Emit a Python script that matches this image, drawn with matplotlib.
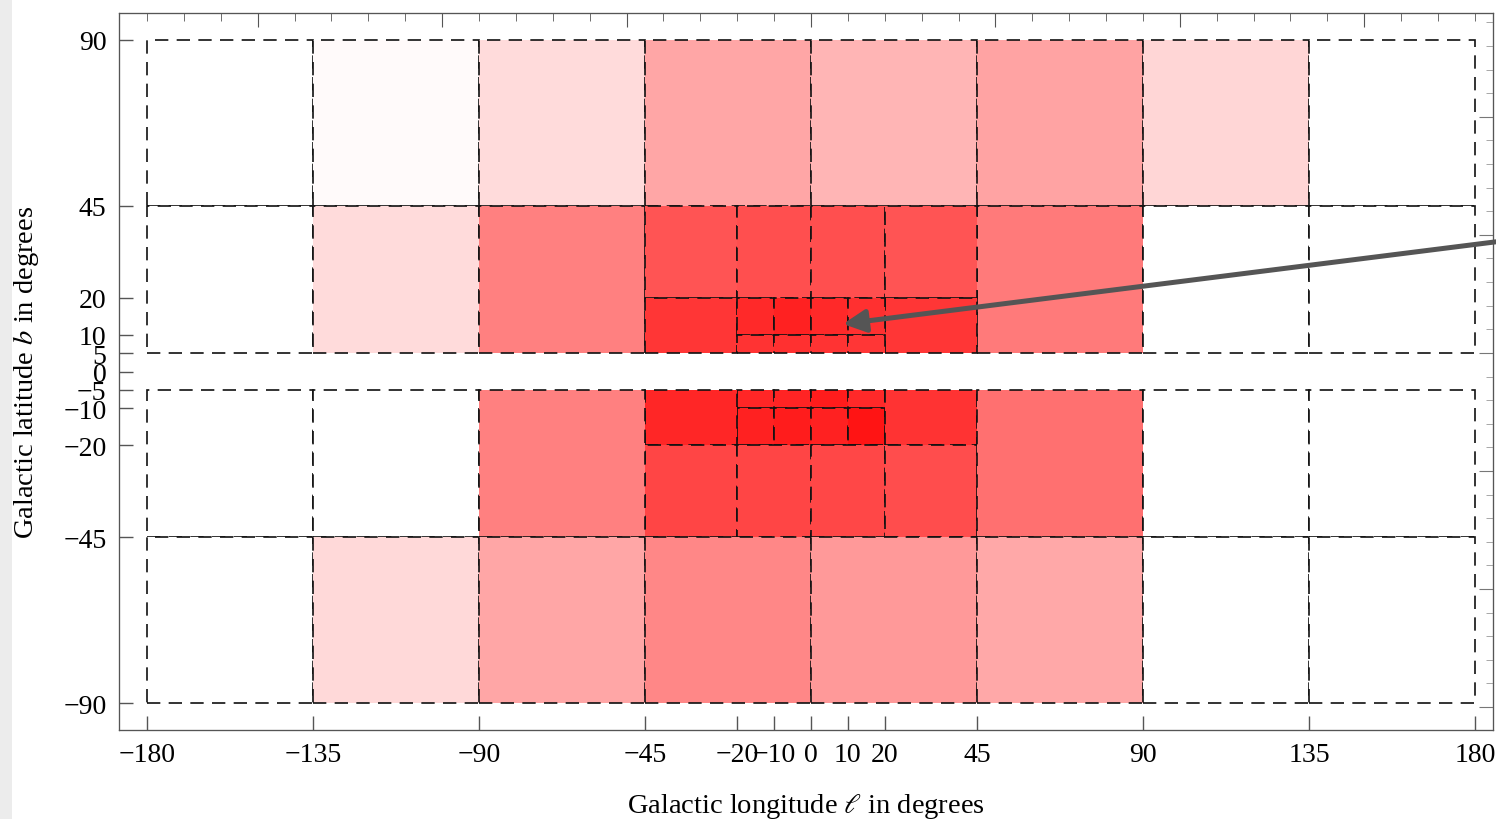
import matplotlib
matplotlib.use("Agg")
import matplotlib.pyplot as plt
from matplotlib.patches import Rectangle
from matplotlib.ticker import MultipleLocator, NullFormatter

# Sky regions: longitude range, latitude range and red intensity (0 = white)
l_lo = [-180, -135, -90, -45, 0, 45, 90, 135,
        -180, -135, -90, 45, 90, 135,
        -45, -20, 0, 20,
        -45, 20,
        -20, -10, 0, 10,
        -20, -10, 0, 10,
        -20, -10, 0, 10,
        -20, -10, 0, 10,
        -45, 20,
        -45, -20, 0, 20,
        -180, -135, -90, 45, 90, 135,
        -180, -135, -90, -45, 0, 45, 90, 135]
l_hi = [-135, -90, -45, 0, 45, 90, 135, 180,
        -135, -90, -45, 90, 135, 180,
        -20, 0, 20, 45,
        -20, 45,
        -10, 0, 10, 20,
        -10, 0, 10, 20,
        -10, 0, 10, 20,
        -10, 0, 10, 20,
        -20, 45,
        -20, 0, 20, 45,
        -135, -90, -45, 90, 135, 180,
        -135, -90, -45, 0, 45, 90, 135, 180]
b_lo = [45] * 8 + [5] * 6 + [20] * 4 + [5] * 2 + [10] * 4 + [5] * 4 \
    + [-10] * 4 + [-20] * 4 + [-20] * 2 + [-45] * 4 + [-45] * 6 + [-90] * 8
b_hi = [90] * 8 + [45] * 6 + [45] * 4 + [20] * 2 + [20] * 4 + [10] * 4 \
    + [-5] * 4 + [-10] * 4 + [-5] * 2 + [-20] * 4 + [-5] * 6 + [-45] * 8
shade = [0.0, 0.02, 0.14, 0.35, 0.29, 0.36, 0.16, 0.0,
         0.0, 0.14, 0.50, 0.52, 0.0, 0.0,
         0.67, 0.69, 0.69, 0.67,
         0.79, 0.79,
         0.84, 0.87, 0.84, 0.81,
         0.80, 0.81, 0.80, 0.79,
         0.85, 0.86, 0.89, 0.84,
         0.87, 0.89, 0.87, 0.92,
         0.85, 0.80,
         0.73, 0.73, 0.72, 0.70,
         0.0, 0.0, 0.50, 0.56, 0.0, 0.0,
         0.0, 0.15, 0.35, 0.47, 0.40, 0.34, 0.0, 0.0]

x_ticks = [-180, -135, -90, -45, -20, -10, 0, 10, 20, 45, 90, 135, 180]
y_ticks = [90, 45, 20, 10, 5, 0, -5, -10, -20, -45, -90]

# arrow pointing at the Galactic centre region
arrow_tail = (185.7, 35.2)
arrow_head = (8.7, 12.9)


def fmt(t):
    return str(t).replace('-', '\u2212')


plt.rcParams['font.family'] = ['Liberation Serif', 'DejaVu Serif']
plt.rcParams['mathtext.fontset'] = 'stix'

fig = plt.figure(figsize=(14.96, 8.2), dpi=100)
fig.patches.append(Rectangle((0, 0), 12 / 1496, 1, transform=fig.transFigure,
                             facecolor='#ececec', edgecolor='none'))
ax = fig.add_axes([119 / 1496, 1 - 731 / 820, (1493 - 119) / 1496, (731 - 14) / 820])

for x0, x1, y0, y1, v in zip(l_lo, l_hi, b_lo, b_hi, shade):
    ax.add_patch(Rectangle((x0, y0), x1 - x0, y1 - y0,
                           facecolor=(1, 1 - v, 1 - v), edgecolor='#111111',
                           lw=1.2, linestyle=(0, (8, 5))))

ax.set_xlim(-187.6, 184.9)
ax.set_ylim(-97.3, 97.3)
ax.set_xticks(x_ticks)
ax.set_xticklabels([fmt(t) for t in x_ticks])
ax.set_yticks(y_ticks)
ax.set_yticklabels([fmt(t) for t in y_ticks])
ax.tick_params(direction='in', length=10, width=1, color='#555555',
               labelsize=20, pad=9)
for s in ax.spines.values():
    s.set_color('#555555')
ax.set_xlabel(r'Galactic longitude $\ell$ in degrees', fontsize=20.5)
ax.set_ylabel(r'Galactic latitude $b$ in degrees', fontsize=20.5)
ax.xaxis.set_label_coords(0.5, -0.085)
ax.yaxis.set_label_coords(-0.057, 0.5)

# decorative ticks along top and right frame
top = ax.twiny()
top.set_xlim(ax.get_xlim())
top.xaxis.set_major_locator(MultipleLocator(50))
top.xaxis.set_minor_locator(MultipleLocator(10))
top.xaxis.set_major_formatter(NullFormatter())
top.tick_params(which='major', direction='in', length=10, color='#555555')
top.tick_params(which='minor', direction='in', length=6, color='#555555')
right = ax.twinx()
right.set_ylim(-0.195, 5.88)
right.yaxis.set_major_locator(MultipleLocator(1))
right.yaxis.set_minor_locator(MultipleLocator(0.2))
right.yaxis.set_major_formatter(NullFormatter())
right.tick_params(which='major', direction='in', length=10, color='#777777')
right.tick_params(which='minor', direction='in', length=5, color='#999999')
for t in (top, right):
    for s in t.spines.values():
        s.set_color('#555555')

ax.annotate('', xy=arrow_head, xytext=arrow_tail, annotation_clip=False,
            arrowprops=dict(arrowstyle='-|>', color='#555555', lw=3.6,
                            mutation_scale=34, shrinkA=0, shrinkB=0,
                            clip_on=False))

fig.savefig('out.png', dpi=100)
